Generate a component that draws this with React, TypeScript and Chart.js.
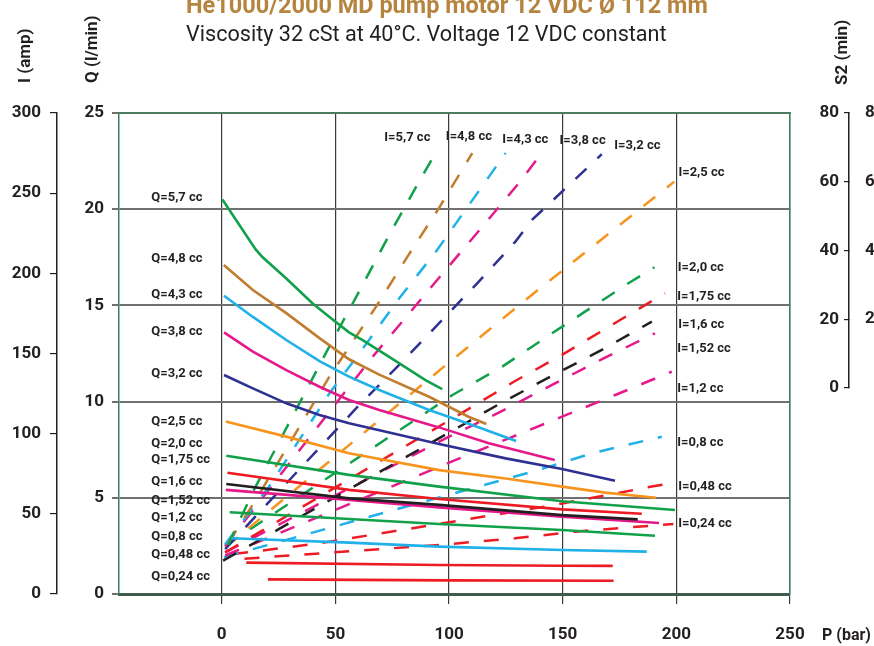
import React, { useEffect, useRef } from 'react';
import { Chart, registerables } from 'chart.js';

Chart.register(...registerables);

type Pt = [number, number];

// ---- Flow Q (l/min) against pressure P (bar): [P, Q]
const flow57: Pt[] = [[0.3, 20.5], [15, 17.9], [18, 17.5], [28.4, 16.4], [40, 15.1], [47.4, 14.4], [56, 13.6], [62, 13.2], [76.6, 12.1], [89.8, 11.1], [97, 10.65]];
const flow48: Pt[] = [[0.9, 17.1], [13.7, 15.8], [28.4, 14.6], [43, 13.3], [56, 12.2], [69.3, 11.4], [91.2, 10.25], [108.8, 9.2], [116.4, 8.84]];
const flow43: Pt[] = [[1, 15.5], [13.7, 14.4], [28.4, 13.2], [43, 12.1], [56, 11.3], [69.3, 10.6], [91.2, 9.56], [110.2, 8.78], [129.5, 7.95]];
const flow38: Pt[] = [[1, 13.6], [13.7, 12.6], [28.4, 11.64], [43, 10.77], [56, 10.08], [69.3, 9.56], [95.6, 8.66], [117.5, 7.83], [146.5, 6.96]];
const flow32: Pt[] = [[1, 11.38], [13.7, 10.69], [28.4, 9.91], [43, 9.3], [56, 8.87], [95.6, 7.8], [124.9, 7.05], [149.7, 6.5], [173, 5.89]];
const flow25: Pt[] = [[1.8, 8.96], [28.4, 8.18], [56, 7.31], [95.6, 6.44], [124.9, 6.0], [149.7, 5.58], [168.7, 5.27], [191, 5.0]];
const flow20: Pt[] = [[2, 7.19], [56, 6.19], [95.6, 5.58], [149.7, 4.82], [199.4, 4.37]];
const flow175: Pt[] = [[2.5, 6.3], [56, 5.41], [95.6, 4.94], [149.7, 4.4], [184.8, 4.17]];
const flow16: Pt[] = [[2, 5.72], [56, 4.97], [95.6, 4.63], [149.7, 4.1], [183, 3.88]];
const flow152: Pt[] = [[1.8, 5.41], [56, 4.89], [95.6, 4.5], [149.7, 4.02], [192.4, 3.69]];
const flow12: Pt[] = [[3.5, 4.25], [56, 3.9], [95.6, 3.64], [149.7, 3.33], [190.6, 3.03]];
const flow08: Pt[] = [[4.3, 2.9], [56, 2.67], [95.6, 2.46], [149.7, 2.29], [187, 2.2]];
const flow048: Pt[] = [[10.8, 1.63], [95.6, 1.51], [149.7, 1.47], [172, 1.46]];
const flow024: Pt[] = [[20.3, 0.76], [100, 0.71], [172.4, 0.69]];

// ---- Current I (amp) against pressure P (bar): [P, I]
const amp57: Pt[] = [[2.8, 30.6], [8.6, 48.2], [14.5, 65.9], [49.6, 160.5], [56.1, 177.2], [73.7, 224], [86.8, 257.2], [94.2, 275.3]];
const amp48: Pt[] = [[2.8, 31.6], [14.5, 57.6], [47.4, 135.6], [67.9, 179.2], [81.7, 210.4], [95.6, 240.8], [110.2, 275]];
const amp43: Pt[] = [[1.5, 31], [20.3, 65.9], [47.4, 125.2], [62.7, 154.3], [78.1, 184.5], [94.2, 213.5], [108.8, 242.7], [124.9, 275]];
const amp38: Pt[] = [[1.5, 30], [50.3, 119], [66.4, 148], [82.5, 175.1], [98.5, 202.1], [114.6, 229], [130.7, 256.2], [139.5, 272.8]];
const amp32: Pt[] = [[1.5, 28], [59.8, 116.8], [77.3, 141.8], [94.9, 167.8], [112.4, 193.8], [129.2, 219.8], [136.5, 233.3], [167.2, 274.3]];
const amp25: Pt[] = [[1.5, 29], [97.8, 141.8], [117.5, 164.7], [137.3, 187.6], [199.1, 257.2]];
const amp20: Pt[] = [[1.5, 30], [101.5, 124.1], [123.4, 141.8], [145.3, 162.6], [178.9, 193.8], [190.4, 203.8]];
const amp175: Pt[] = [[1.5, 26], [106.6, 113.7], [128.5, 132.4], [149.7, 149.1], [171.6, 167.8], [195, 187.6]];
const amp16: Pt[] = [[0.6, 20.8], [100.7, 101.2], [122.7, 119], [144.6, 135.6], [167.2, 152.2], [189.2, 169.9]];
const amp152: Pt[] = [[1.5, 26], [100, 98.1], [122.7, 113.7], [145.3, 130.4], [168, 147], [190.6, 162.6]];
const amp12: Pt[] = [[1.5, 24], [102.9, 83.6], [126.3, 97.1], [149.7, 110.6], [173.1, 124.1], [198, 138.7]];
const amp08: Pt[] = [[1, 23], [139.5, 77.4], [162.9, 87.8], [193.6, 98.1]];
const amp048: Pt[] = [[5, 25], [13.6, 26.4], [43, 31.6], [101.5, 45.1], [143.9, 54.9], [189.2, 67], [195.3, 68.4]];
const amp024: Pt[] = [[10, 22], [95.6, 30.6], [129, 34.7], [155.6, 38.9], [198.7, 43.7]];

// ---- Names
const flowNames = ['Q=5,7 cc', 'Q=4,8 cc', 'Q=4,3 cc', 'Q=3,8 cc', 'Q=3,2 cc', 'Q=2,5 cc', 'Q=2,0 cc', 'Q=1,75 cc', 'Q=1,6 cc', 'Q=1,52 cc', 'Q=1,2 cc', 'Q=0,8 cc', 'Q=0,48 cc', 'Q=0,24 cc'];
const ampNames = ['I=5,7 cc', 'I=4,8 cc', 'I=4,3 cc', 'I=3,8 cc', 'I=3,2 cc', 'I=2,5 cc', 'I=2,0 cc', 'I=1,75 cc', 'I=1,6 cc', 'I=1,52 cc', 'I=1,2 cc', 'I=0,8 cc', 'I=0,48 cc', 'I=0,24 cc'];

// ---- Axis ticks
const pressureTicks = [0, 50, 100, 150, 200, 250];
const s2Ticks = [0, 20, 40, 60, 80];

const TITLE = 'He1000/2000 MD pump motor 12 VDC Ø 112 mm';
const SUBTITLE = 'Viscosity 32 cSt at 40°C. Voltage 12 VDC constant';

// colours
const GREEN = '#12a14b';
const BROWN = '#c27c2e';
const CYAN = '#1fb1e8';
const MAGENTA = '#e6198b';
const NAVY = '#2e3192';
const ORANGE = '#f7941d';
const RED = '#ed1c24';
const BLACK = '#231f20';

const flowSeries = [flow57, flow48, flow43, flow38, flow32, flow25, flow20, flow175, flow16, flow152, flow12, flow08, flow048, flow024];
const ampSeries = [amp57, amp48, amp43, amp38, amp32, amp25, amp20, amp175, amp16, amp152, amp12, amp08, amp048, amp024];
const flowColors = [GREEN, BROWN, CYAN, MAGENTA, NAVY, ORANGE, GREEN, RED, BLACK, MAGENTA, GREEN, CYAN, RED, RED];
const ampColors = [GREEN, BROWN, CYAN, MAGENTA, NAVY, ORANGE, GREEN, RED, BLACK, MAGENTA, MAGENTA, CYAN, RED, RED];

// label anchors in (P, Q) units
const flowLabelAt: Pt[] = [[-31, 20.57], [-31, 17.45], [-31, 15.54], [-31, 13.63], [-31, 11.43], [-31, 8.93], [-31, 7.83], [-31, 6.96], [-31, 5.84], [-31, 4.84], [-31, 3.94], [-31, 2.98], [-31, 2.03], [-31, 0.89]];
const ampLabelAt: Pt[] = [[71.5, 23.69], [98.6, 23.77], [123.4, 23.63], [148.6, 23.56], [172.7, 23.28], [200.9, 21.9], [200.6, 16.98], [200.4, 15.45], [200.8, 13.98], [200.4, 12.77], [200.4, 10.67], [200.4, 7.88], [200.8, 5.55], [200.8, 3.64]];

const FONT = 'Roboto';
const GREEN_BORDER = '#3f7f5a';

const textPlugin = {
  id: 'chartTexts',
  afterDraw(chart: any) {
    const ctx = chart.ctx as CanvasRenderingContext2D;
    const xs = chart.scales.x;
    const qs = chart.scales.q;
    const is = chart.scales.i;
    const s2 = chart.scales.s2;
    ctx.save();
    ctx.textAlign = 'left';
    ctx.textBaseline = 'alphabetic';
    ctx.fillStyle = '#b5843f';
    ctx.font = `bold 23.5px ${FONT}`;
    ctx.fillText(TITLE, 186, 13);
    ctx.fillStyle = '#231f20';
    ctx.font = `21.6px ${FONT}`;
    ctx.fillText(SUBTITLE, 186, 41);

    ctx.font = `bold 17px ${FONT}`;
    const vtitle = (t: string, x: number, yb: number) => {
      ctx.save();
      ctx.translate(x, yb);
      ctx.rotate(-Math.PI / 2);
      ctx.textAlign = 'left';
      ctx.textBaseline = 'middle';
      ctx.fillText(t, 0, 0);
      ctx.restore();
    };
    vtitle('I (amp)', is.left + 26, 83);
    vtitle('Q (l/min)', qs.left + 36, 83);
    vtitle('S2 (min)', s2.left - 6, 85);
    ctx.font = `bold 16px ${FONT}`;
    ctx.textBaseline = 'middle';
    ctx.fillText('P (bar)', xs.right + 32, 636);

    ctx.font = `bold 13px ${FONT}`;
    ctx.textBaseline = 'middle';
    flowNames.forEach((n, k) => {
      const [p, q] = flowLabelAt[k];
      ctx.fillText(n, xs.getPixelForValue(p), qs.getPixelForValue(q));
    });
    ampNames.forEach((n, k) => {
      const [p, q] = ampLabelAt[k];
      ctx.fillText(n, xs.getPixelForValue(p), qs.getPixelForValue(q));
    });
    ctx.restore();
  },
};

export default function App() {
  const ref = useRef<HTMLCanvasElement>(null);
  useEffect(() => {
    if (!ref.current) return;
    Chart.defaults.font.family = FONT;
    const datasets: any[] = [];
    flowSeries.forEach((s, k) => {
      datasets.push({
        label: flowNames[k],
        data: s.map(([x, y]) => ({ x, y })),
        yAxisID: 'q',
        borderColor: flowColors[k],
        borderWidth: 2.6,
        pointRadius: 0,
        tension: 0,
        fill: false,
      });
    });
    ampSeries.forEach((s, k) => {
      datasets.push({
        label: ampNames[k],
        data: s.map(([x, y]) => ({ x, y })),
        yAxisID: 'i',
        borderColor: ampColors[k],
        borderWidth: 2.5,
        borderDash: [15, 15],
        pointRadius: 0,
        tension: 0,
        fill: false,
      });
    });
    const tickFont = { family: FONT, size: 17, weight: 'bold' as const };
    const chart = new Chart(ref.current, {
      type: 'line',
      data: { datasets },
      plugins: [textPlugin],
      options: {
        animation: false,
        responsive: false,
        devicePixelRatio: 1,
        layout: { padding: { top: 113, left: 0, right: 0, bottom: 0 } },
        plugins: { legend: { display: false }, tooltip: { enabled: false }, title: { display: false } },
        scales: {
          x: {
            type: 'linear',
            position: 'bottom',
            min: -45.2,
            max: 250,
            afterBuildTicks: (s: any) => {
              s.ticks = pressureTicks.map((v) => ({ value: v }));
            },
            afterFit: (s: any) => { s.height = 52; },
            ticks: { font: tickFont, color: '#231f20', padding: 21, maxRotation: 0 },
            grid: { color: '#3a3a3a', lineWidth: 1.2, tickLength: 10 },
            border: { color: '#3d5c4c', width: 3, z: 1 },
          },
          xTop: {
            type: 'linear',
            position: 'top',
            min: 0,
            max: 1,
            afterFit: (s: any) => { s.height = 0; },
            ticks: { display: false },
            grid: { drawOnChartArea: false, drawTicks: false },
            border: { color: GREEN_BORDER, width: 1.5, z: 1 },
          },
          q: {
            type: 'linear',
            position: 'left',
            weight: 0,
            min: 0,
            max: 25,
            afterFit: (s: any) => { s.width = 62; },
            ticks: { stepSize: 5, font: tickFont, color: '#231f20', padding: 8 },
            grid: { color: '#707070', lineWidth: 2, tickLength: 7 },
            border: { color: GREEN_BORDER, width: 1.5, z: 1 },
          },
          i: {
            type: 'linear',
            position: 'left',
            weight: 1,
            min: 0,
            max: 300,
            afterFit: (s: any) => { s.width = 57; },
            ticks: { stepSize: 50, font: tickFont, color: '#231f20', padding: 9 },
            grid: { drawOnChartArea: false, color: '#231f20', lineWidth: 1.2, tickLength: 7 },
            border: { color: '#231f20', width: 1.5 },
          },
          gap: {
            type: 'linear',
            position: 'right',
            weight: 0,
            min: 0,
            max: 1,
            afterFit: (s: any) => { s.width = 59; },
            ticks: { display: false },
            grid: { drawOnChartArea: false, drawTicks: false },
            border: { color: GREEN_BORDER, width: 1.5, z: 1 },
          },
          s2: {
            type: 'linear',
            position: 'right',
            weight: 1,
            stack: 's2',
            stackWeight: 275,
            min: 0,
            max: 80,
            afterBuildTicks: (s: any) => {
              s.ticks = s2Ticks.map((v) => ({ value: v }));
            },
            afterFit: (s: any) => { s.width = 10; },
            ticks: { font: tickFont, color: '#231f20', mirror: true, padding: -10 },
            grid: { drawOnChartArea: false, color: '#231f20', lineWidth: 1.2, tickLength: -5 },
            border: { color: '#231f20', width: 1.5 },
          },
          s2pad: {
            type: 'linear',
            position: 'right',
            weight: 1,
            stack: 's2',
            stackWeight: 206,
            display: false,
          },
          s2b: {
            type: 'linear',
            position: 'right',
            weight: 2,
            min: -59.93,
            max: 80,
            afterBuildTicks: (s: any) => {
              s.ticks = s2Ticks.filter((v) => v > 0).map((v) => ({ value: v }));
            },
            afterFit: (s: any) => { s.width = 41; },
            ticks: { font: tickFont, color: '#231f20', padding: -2 },
            grid: { display: false },
            border: { display: false },
          },
        },
      } as any,
    });
    return () => chart.destroy();
  }, []);
  return (
    <div style={{ position: 'fixed', left: 0, top: 0, width: 874, height: 646, overflow: 'hidden', background: '#fff' }}>
      <canvas ref={ref} width={900} height={646} style={{ display: 'block' }} />
    </div>
  );
}
